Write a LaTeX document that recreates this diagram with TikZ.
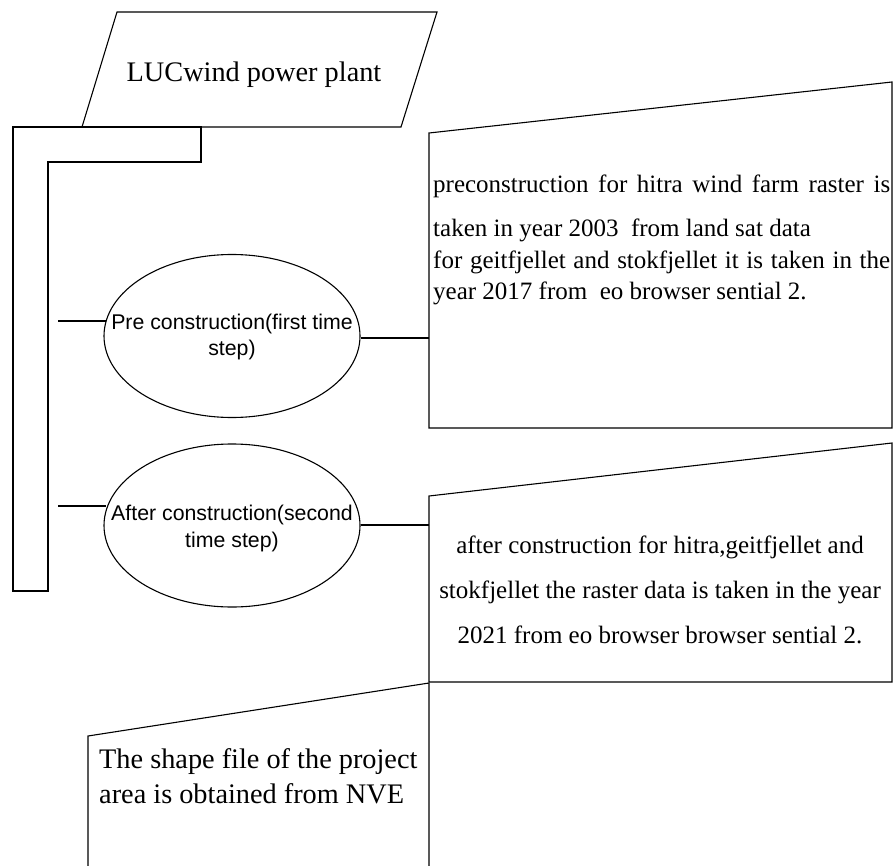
\documentclass[tikz,border=0pt]{standalone}
\usepackage{fontspec}
\setmainfont{Liberation Serif}
\newfontfamily\arialf{Liberation Sans}
\usetikzlibrary{shapes.geometric}
\tikzset{
  shapeline/.style={draw=black, line width=1.1pt, line join=miter},
  conn/.style={draw=black, line width=2.6pt},
  oval/.style={ellipse, draw=black, line width=1.1pt, minimum width=256pt, minimum height=163pt, inner sep=0pt},
  serifbox/.style={font=\fontsize{25}{30}\selectfont, inner sep=0pt},
  seriflarge/.style={font=\fontsize{28.3}{34}\selectfont, inner sep=0pt},
  sanstext/.style={font=\arialf\fontsize{21.3}{25}\selectfont, inner sep=0pt, anchor=base},
}
\begin{document}
\begin{tikzpicture}[x=1pt, y=-1pt]
\useasboundingbox (0,0) rectangle (893,866);

% title parallelogram
\draw[shapeline] (117,12) -- (437,12) -- (401,127) -- (82,127) -- cycle;
\node[seriflarge, anchor=base] (title) at (254,82) {LUCwind power plant};

% bracket
\draw[shapeline] (13,127) -- (201,127) -- (201,162) -- (48,162) -- (48,591) -- (13,591) -- cycle;

% ellipses
\node[oval] (e1) at (232,336) {};
\node[oval] (e2) at (232,525.5) {};
\node[sanstext] (e1a) at (232,329) {Pre construction(first time};
\node[sanstext] (e1b) at (232,355) {step)};
\node[sanstext] (e2a) at (232,520) {After construction(second};
\node[sanstext] (e2b) at (232,547) {time step)};

% stubs
\coordinate (s1) at (58,321);
\coordinate (s1e) at (106,321);
\coordinate (s2) at (58,506);
\coordinate (s2e) at (106,506);
\draw[conn] (s1) -- (s1e);
\draw[conn] (s2) -- (s2e);

% box 1
\draw[shapeline] (429,133) -- (892,82) -- (892,428) -- (429,428) -- cycle;
\coordinate (b1w) at (429,338);
\draw[conn] (e1.east |- b1w) -- (b1w);
\node[serifbox, anchor=base west] (t1a) at (433,193) {\makebox[457pt][s]{preconstruction for hitra wind farm raster is}};
\node[serifbox, anchor=base west] (t1b) at (433,237) {taken in year 2003 \ from land sat data};
\node[serifbox, anchor=base west] (t1c) at (433,269) {\makebox[457pt][s]{for geitfjellet and stokfjellet it is taken in the}};
\node[serifbox, anchor=base west] (t1d) at (433,299) {year 2017 from \ eo browser sential 2.};

% box 2
\draw[shapeline] (429,496) -- (892,443) -- (892,682) -- (429,682) -- cycle;
\coordinate (b2w) at (429,525);
\draw[conn] (e2.east |- b2w) -- (b2w);
\node[serifbox, anchor=base] (t2a) at (660,553) {after construction for hitra,geitfjellet and};
\node[serifbox, anchor=base] (t2b) at (660,598) {stokfjellet the raster data is taken in the year};
\node[serifbox, anchor=base] (t2c) at (660,643) {2021 from eo browser browser sential 2.};

% box 3
\draw[shapeline] (88,870) -- (88,736) -- (429,683) -- (429,870);
\node[seriflarge, anchor=base west] (t3a) at (99,768) {The shape file of the project};
\node[seriflarge, anchor=base west] (t3b) at (99,803) {area is obtained from NVE};
\end{tikzpicture}
\end{document}
